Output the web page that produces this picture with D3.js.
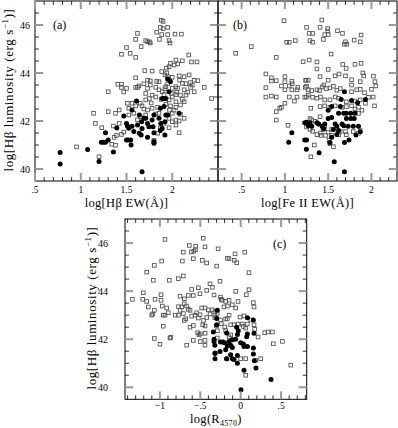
<!DOCTYPE html>
<html>
<head>
<meta charset="utf-8">
<script src="https://cdn.jsdelivr.net/npm/d3@7"></script>
<style>
  body { margin: 0; background: #fff; }
  text { font-family: "Liberation Serif", "DejaVu Serif", serif; fill: #000; }
</style>
</head>
<body>
<div id="chart"></div>
<script>
// ---- data: [x, log L(Hbeta)] ----
const aOpen = [
  [0.954,40.92],[1.20,40.51],[1.14,42.32],[1.16,41.90],[1.23,41.72],[1.30,42.39],[1.30,43.22],[1.34,41.03],[1.38,40.99],[1.365,41.32],
  [1.39,41.40],[1.357,41.79],[1.38,42.32],[1.42,42.46],[1.42,41.90],[1.445,41.44],[1.47,41.54],[1.405,43.53],[1.445,43.53],[1.445,43.40],
  [1.47,43.21],[1.50,43.36],[1.445,44.78],[1.50,45.06],[1.88,46.2],[1.90,46.15],[1.87,45.9],[1.90,45.85],[1.95,45.9],[1.83,45.7],
  [1.885,45.6],[1.95,45.6],[2.03,45.62],[2.10,45.62],[1.62,45.65],[1.60,45.4],[1.71,45.35],[1.73,45.3],[1.75,45.3],[1.76,45.25],
  [1.86,45.4],[1.965,45.35],[1.975,45.25],[1.66,45.1],[1.54,44.82],[1.60,44.65],[2.18,44.75],[2.21,44.46],[2.27,44.46],[2.11,44.51],
  [2.04,44.54],[2.06,44.38],[1.98,44.4],[2.02,44.33],[1.965,44.26],[1.936,44.2],[1.885,44.06],[1.78,44.08],[1.70,44.1],[1.60,43.8],
  [1.73,43.7],[1.76,43.67],[1.855,43.64],[1.92,43.92],[1.947,43.85],[2.0,43.82],[2.075,43.88],[2.13,43.85],[2.185,43.92],[2.24,43.7],
  [2.28,43.68],[2.20,43.6],[2.11,43.57],[2.04,43.43],[2.06,43.36],[2.13,43.3],[2.20,43.4],[2.24,43.22],[2.35,43.4],[2.43,42.94],
  [1.60,43.4],[1.62,43.4],[1.635,43.46],[1.73,43.36],[1.76,43.5],[1.82,43.4],[1.93,43.43],[2.0,43.36],[1.855,43.3],[1.89,43.22],
  [1.71,43.15],[1.78,43.08],[1.82,43.0],[1.75,42.94],[1.91,43.1],[2.04,43.1],[2.09,43.08],[2.15,43.08],[2.0,43.0],[1.965,42.88],
  [2.04,42.8],[2.13,42.8],[1.71,42.88],[1.65,42.74],[1.56,42.74],[1.51,42.74],[1.525,42.53],[1.60,42.63],[1.67,42.63],[1.73,42.46],
  [1.78,42.53],[1.84,42.57],[1.98,42.63],[2.04,42.57],[2.09,42.67],[1.58,42.32],[1.65,42.18],[1.71,42.25],[1.82,42.29],[1.855,42.32],
  [2.0,42.32],[2.09,42.28],[2.13,42.11],[1.965,42.11],[2.04,42.04],[2.0,41.97],[2.075,42.0],[1.525,42.25],[1.91,41.9],[1.965,41.72],
  [2.04,41.83],[1.84,41.49],[1.87,41.7],[2.075,41.51],[1.80,41.2],[1.80,41.14],[1.95,43.55],[1.97,43.7],[2.05,43.2],[1.88,42.9],
  [1.93,42.7],[2.02,42.45],[1.97,42.45],[1.77,42.75],[1.69,42.5],[1.62,42.05],[1.92,43.35],[2.08,43.7],[2.15,43.55],[2.17,43.2],
  [1.99,43.15],[2.11,42.9],[2.22,43.5],[1.94,44.0],[1.83,43.65],[1.69,43.55]
];
const aFilled = [
  [0.775,40.69],[0.775,40.21],[1.075,40.81],[1.20,40.31],[1.27,41.51],[1.225,41.11],[1.247,41.11],[1.27,41.11],[1.30,41.21],[1.357,40.71],
  [1.394,41.71],[1.47,42.21],[1.51,41.79],[1.50,41.21],[1.61,42.83],[1.56,42.46],[1.64,42.25],[1.50,41.9],[1.525,41.7],[1.56,41.78],
  [1.52,41.21],[1.545,41.21],[1.55,41.0],[1.58,41.56],[1.62,41.83],[1.64,41.49],[1.665,41.97],[1.67,41.69],[1.69,42.11],[1.71,42.11],
  [1.73,41.9],[1.745,41.76],[1.66,41.42],[1.73,41.32],[1.78,42.04],[1.80,42.25],[1.79,41.76],[1.80,41.51],[1.80,41.14],[1.80,41.07],
  [1.855,42.11],[1.87,42.53],[1.89,42.94],[1.91,42.94],[1.93,42.94],[1.91,42.6],[1.92,41.42],[1.93,42.25],[1.95,42.25],[1.875,41.9],
  [1.89,41.69],[1.87,41.6],[1.92,41.97],[1.965,43.22],[1.98,43.64],[1.95,43.75],[2.075,42.32],[1.67,39.89]
];
const bOpen = [
  [0.431,44.82],[0.612,45.1],[0.99,46.18],[1.02,45.28],[1.05,45.28],[1.12,45.35],[0.90,44.65],[1.21,44.47],[0.78,43.96],[0.844,43.8],
  [0.844,43.67],[0.90,43.68],[1.0,43.85],[1.0,43.64],[1.08,43.65],[1.085,43.55],[0.96,43.46],[1.05,43.46],[1.15,43.4],[1.235,43.4],
  [0.78,43.39],[0.78,43.0],[0.844,43.04],[0.90,43.0],[1.0,43.3],[1.08,43.3],[1.14,43.3],[1.05,43.0],[1.14,43.0],[1.23,42.99],
  [1.0,42.74],[1.11,42.83],[0.96,42.57],[0.94,42.53],[0.90,42.39],[0.90,42.04],[1.036,41.82],[1.24,43.7],[1.426,46.21],[1.25,45.9],
  [1.406,45.9],[1.495,45.85],[1.495,45.75],[1.28,45.65],[1.32,45.65],[1.46,45.6],[1.50,45.6],[1.607,45.76],[1.665,45.65],[1.445,45.4],
  [1.29,45.35],[1.32,45.28],[1.70,45.3],[1.688,45.2],[1.715,45.2],[1.80,45.37],[1.88,45.58],[1.87,45.3],[1.534,44.79],[1.28,44.54],
  [1.37,44.46],[1.37,44.17],[1.50,44.15],[1.668,44.36],[1.707,44.19],[1.81,44.36],[1.88,44.4],[1.90,44.0],[1.91,43.88],[1.626,43.96],
  [2.023,43.87],[2.04,43.64],[2.05,43.46],[2.0,43.32],[1.245,43.7],[1.27,43.7],[1.406,43.85],[1.50,43.7],[1.58,43.88],[1.70,43.88],
  [1.77,43.72],[1.77,43.5],[1.87,43.64],[1.25,43.45],[1.27,43.3],[1.31,43.27],[1.37,43.3],[1.40,43.27],[1.43,43.42],[1.45,43.5],
  [1.48,43.35],[1.52,43.38],[1.56,43.45],[1.60,43.28],[1.64,43.35],[1.77,43.22],[1.83,43.3],[1.87,43.32],[1.92,43.18],[1.965,42.99],
  [2.02,43.0],[2.035,42.63],[1.93,42.74],[1.87,42.88],[1.81,42.83],[1.25,43.0],[1.27,43.08],[1.32,42.99],[1.37,42.95],[1.41,43.0],
  [1.46,42.88],[1.52,42.88],[1.58,43.0],[1.62,42.95],[1.71,42.8],[1.66,42.57],[1.71,42.6],[1.77,42.63],[1.81,42.5],[1.85,42.57],
  [1.89,42.45],[1.85,42.32],[1.30,42.53],[1.406,42.6],[1.46,42.63],[1.52,42.57],[1.58,42.63],[1.29,42.1],[1.31,42.05],[1.35,41.99],
  [1.406,42.18],[1.25,41.9],[1.25,41.75],[1.29,41.65],[1.32,41.57],[1.37,41.43],[1.41,41.5],[1.44,41.65],[1.46,41.78],[1.47,41.4],
  [1.50,41.53],[1.54,41.65],[1.62,41.43],[1.64,41.56],[1.70,41.56],[1.71,41.43],[1.79,41.56],[1.85,41.49],[1.87,41.6],[1.34,41.0],
  [1.51,41.2],[1.52,41.05],[1.56,40.93],[1.30,40.51],[1.42,41.4],[1.54,41.4]
];
const bFilled = [
  [1.08,41.51],[1.044,41.11],[1.229,41.21],[1.248,40.82],[1.229,41.93],[1.688,43.22],[1.77,42.85],[1.84,42.76],[1.93,42.9],[1.50,42.45],
  [1.54,42.6],[1.64,42.6],[1.62,42.32],[1.68,42.32],[1.71,42.32],[1.76,42.32],[1.81,42.32],[1.80,42.1],[1.76,42.1],[1.71,42.1],
  [1.54,42.15],[1.50,42.1],[1.46,41.87],[1.39,41.87],[1.43,41.78],[1.45,41.68],[1.37,41.93],[1.58,41.87],[1.60,41.78],[1.56,41.65],
  [1.66,41.87],[1.68,41.8],[1.62,41.6],[1.60,41.44],[1.73,41.78],[1.79,41.78],[1.85,41.78],[1.87,41.55],[1.25,41.21],[1.395,40.68],
  [1.54,41.32],[1.52,41.1],[1.688,41.1],[1.74,41.21],[1.82,41.42],[1.57,40.3],[1.688,39.89],[1.27,41.8],[1.31,41.78],[1.29,41.92],
  [1.25,41.95],[1.65,42.9]
];
const cOpen = [
  [-0.937,46.15],[-0.978,45.25],[-1.069,45.07],[-1.164,44.79],[-1.081,44.45],[-0.883,44.45],[-0.772,44.52],[-0.71,44.63],[-0.722,45.25],[-0.636,45.9],
  [-0.557,45.87],[-0.71,45.62],[-0.61,45.63],[-0.58,45.66],[-0.56,45.72],[-0.475,45.28],[-0.421,45.17],[-0.442,45.84],[-0.463,46.2],[-0.586,45.35],
  [-0.297,45.04],[-1.341,43.66],[-1.205,43.93],[-1.213,43.66],[-1.164,43.57],[-1.06,43.66],[-0.986,43.85],[-0.986,43.62],[-1.143,43.34],[-1.10,43.0],
  [-1.09,43.05],[-1.069,43.2],[-0.97,43.38],[-0.958,43.0],[-0.916,43.3],[-0.896,43.1],[-0.937,43.0],[-0.958,42.54],[-1.069,42.03],[-0.999,41.79],
  [-0.875,42.05],[-0.865,42.08],[-0.751,43.79],[-0.698,43.68],[-0.648,43.82],[-0.607,44.07],[-0.524,44.14],[-0.586,43.82],[-0.504,43.89],[-0.421,44.03],
  [-0.38,44.3],[-0.35,44.16],[-0.77,43.35],[-0.75,43.2],[-0.73,43.34],[-0.698,43.47],[-0.67,43.38],[-0.65,43.25],[-0.71,43.07],[-0.77,43.0],
  [-0.81,43.0],[-0.627,43.2],[-0.607,42.96],[-0.565,43.0],[-0.545,43.1],[-0.524,42.88],[-0.504,43.02],[-0.483,43.3],[-0.442,43.3],[-0.4,43.22],
  [-0.38,43.05],[-0.35,43.22],[-0.318,43.15],[-0.42,42.9],[-0.46,42.78],[-0.442,42.55],[-0.698,42.78],[-0.68,42.85],[-0.627,42.5],[-0.586,42.57],
  [-0.533,42.27],[-0.516,42.18],[-0.5,42.22],[-0.47,42.6],[-0.44,42.25],[-0.32,42.9],[-0.30,42.55],[-0.586,41.95],[-0.669,41.75],[-0.442,41.75],
  [-0.442,41.95],[-0.50,41.9],[-0.28,45.76],[-0.165,45.37],[-0.145,45.35],[-0.07,45.55],[-0.08,45.28],[-0.05,45.18],[0.05,45.62],[0.103,44.77],
  [-0.256,44.41],[-0.062,43.99],[0.103,44.06],[0.07,43.85],[-0.33,43.84],[-0.25,43.75],[-0.24,43.66],[-0.23,43.62],[-0.186,43.57],[-0.144,43.62],
  [-0.033,43.57],[-0.103,43.43],[-0.062,43.3],[-0.165,43.38],[-0.207,43.34],[0.165,43.34],[0.157,43.52],[-0.32,43.0],[-0.29,43.07],[-0.144,43.0],
  [-0.186,42.84],[-0.165,42.86],[-0.008,42.92],[0.041,42.97],[0.124,42.8],[-0.25,42.8],[-0.24,42.65],[-0.198,42.51],[-0.124,42.6],[-0.083,42.6],
  [-0.033,42.63],[0.02,42.63],[0.083,42.63],[0.165,42.6],[0.173,42.41],[0.033,42.53],[0.062,42.46],[0.215,42.09],[0.297,42.27],[0.338,42.3],
  [0.392,42.3],[0.404,41.81],[0.516,41.91],[0.619,40.92],[0.062,41.19],[0.248,41.19],[0.186,41.12],[0.0,41.19],[0.062,40.5],[-0.29,42.05],
  [-0.124,42.18],[-0.144,42.1],[-0.186,42.35],[-0.289,42.35]
];
const cFilled = [
  [-0.339,42.3],[-0.33,42.0],[-0.318,41.4],[-0.318,41.19],[-0.297,42.6],[-0.289,43.2],[-0.297,42.86],[-0.25,41.88],[-0.22,41.88],[-0.2,41.85],
  [-0.144,41.9],[-0.103,41.98],[-0.33,41.9],[-0.32,41.75],[-0.165,41.72],[-0.124,41.75],[-0.103,41.65],[-0.186,41.56],[-0.124,41.35],[-0.041,41.32],
  [-0.173,41.19],[-0.103,41.19],[-0.083,41.16],[-0.041,41.0],[0.0,41.85],[0.04,41.7],[0.033,41.8],[0.083,41.7],[-0.062,42.0],[-0.04,42.2],
  [-0.03,42.35],[-0.05,42.5],[0.083,42.22],[0.074,42.1],[0.083,42.89],[0.157,42.8],[0.165,42.25],[0.157,41.63],[0.157,41.38],[0.169,41.1],
  [0.189,40.8],[0.041,40.71],[0.004,39.9],[0.375,40.32],[-0.174,42.26],[-0.256,41.49],[-0.318,41.43],[-0.174,41.19]
];

// tick values
const yTicks = [40, 42, 44, 46];
const aXTicks = [0.5, 1, 1.5, 2];
const bXTicks = [0.5, 1, 1.5, 2];
const cXTicks = [-1, -0.5, 0, 0.5];

const W = 398, H = 428;
const svg = d3.select('#chart').append('svg').attr('width', W).attr('height', H);

const fmt = v => {
  let s = d3.format('~g')(Math.abs(v)).replace(/^0\./, '.');
  return (v < 0 ? '\u2212' : '') + s;
};

const panels = [
  { name: '(a)', open: aOpen, filled: aFilled, xDom: [0.5, 2.5], xr: [35, 218], yr: [181, 1],
    xTicks: aXTicks, yLab: true, yLabX: 30, tag: [53, 29], xTitle: 'ew', xLabY: 193, xTitleY: 207 },
  { name: '(b)', open: bOpen, filled: bFilled, xDom: [0.227, 2.295], xr: [218, 397], yr: [181, 1],
    xTicks: bXTicks, yLab: false, tag: [233, 29], xTitle: 'fe', xLabY: 193, xTitleY: 207 },
  { name: '(c)', open: cOpen, filled: cFilled, xDom: [-1.432, 0.817], xr: [125, 306.7], yr: [399.3, 219],
    xTicks: cXTicks, yLab: true, yLabX: 108, tag: [273, 248], xTitle: 'r', xLabY: 409, xTitleY: 423 }
];

function ytitle(g, cx, cy) {
  let t = g.append('text')
    .attr('transform', 'translate(' + cx + ',' + cy + ') rotate(-90)')
    .attr('text-anchor', 'middle')
    .style('font-size', '13px')
    .style('letter-spacing', '0.6px');
  t.append('tspan').text('log[H\u03b2  luminosity (erg s');
  t.append('tspan').attr('dy', -5).style('font-size', '9px').text('\u22121');
  t.append('tspan').attr('dy', 5).text(')]');
}

panels.forEach(p => {
  const x = d3.scaleLinear().domain(p.xDom).range(p.xr);
  const y = d3.scaleLinear().domain([39.5, 47]).range(p.yr);
  const g = svg.append('g');

  // points
  g.selectAll('rect.o').data(p.open).enter().append('rect')
    .attr('x', d => x(d[0]) - 1.8).attr('y', d => y(d[1]) - 1.8)
    .attr('width', 3.6).attr('height', 3.6)
    .attr('fill', 'none').attr('stroke', '#555').attr('stroke-width', 0.9);
  g.selectAll('circle.f').data(p.filled).enter().append('circle')
    .attr('cx', d => x(d[0])).attr('cy', d => y(d[1])).attr('r', 2.5)
    .attr('fill', '#000');

  // frame
  const [x0, x1] = p.xr, [y0, y1] = p.yr;
  g.append('rect').attr('x', x0).attr('y', y1).attr('width', x1 - x0).attr('height', y0 - y1)
    .attr('fill', 'none').attr('stroke', '#000').attr('stroke-width', 1);

  // minor ticks
  const xMinor = d3.range(Math.ceil(p.xDom[0] * 10), Math.floor(p.xDom[1] * 10) + 1).map(v => v / 10)
    .filter(v => Math.abs(v * 2 - Math.round(v * 2)) > 1e-6);
  const yMinor = d3.range(40, 47, 0.5).filter(v => v % 2 !== 0);
  const tk = g.append('g').attr('stroke', '#000').attr('stroke-width', 0.8);
  xMinor.forEach(v => {
    tk.append('line').attr('x1', x(v)).attr('x2', x(v)).attr('y1', y0).attr('y2', y0 - 4);
    tk.append('line').attr('x1', x(v)).attr('x2', x(v)).attr('y1', y1).attr('y2', y1 + 4);
  });
  yMinor.forEach(v => {
    tk.append('line').attr('x1', x0).attr('x2', x0 + 4).attr('y1', y(v)).attr('y2', y(v));
    tk.append('line').attr('x1', x1).attr('x2', x1 - 4).attr('y1', y(v)).attr('y2', y(v));
  });
  // major ticks
  const mj = g.append('g').attr('stroke', '#9a9a9a').attr('stroke-width', 2);
  p.xTicks.forEach(v => {
    mj.append('line').attr('x1', x(v)).attr('x2', x(v)).attr('y1', y0).attr('y2', y0 - 8);
    mj.append('line').attr('x1', x(v)).attr('x2', x(v)).attr('y1', y1).attr('y2', y1 + 8);
  });
  yTicks.forEach(v => {
    mj.append('line').attr('x1', x0).attr('x2', x0 + 8).attr('y1', y(v)).attr('y2', y(v));
    mj.append('line').attr('x1', x1).attr('x2', x1 - 8).attr('y1', y(v)).attr('y2', y(v));
  });

  // tick labels
  g.selectAll('text.xl').data(p.xTicks).enter().append('text')
    .attr('x', d => x(d)).attr('y', p.xLabY)
    .attr('text-anchor', 'middle').style('font-size', '9.5px')
    .text(fmt);
  if (p.yLab) {
    g.selectAll('text.yl').data(yTicks).enter().append('text')
      .attr('x', p.yLabX).attr('y', d => y(d)).attr('dy', '0.35em')
      .attr('text-anchor', 'end').style('font-size', '10px')
      .text(fmt);
  }

  // panel tag
  g.append('text').attr('x', p.tag[0]).attr('y', p.tag[1]).style('font-size', '12px').text(p.name);

  // x title
  const xc = (x0 + x1) / 2;
  const xt = g.append('text').attr('x', xc).attr('y', p.xTitleY)
    .attr('text-anchor', 'middle').style('font-size', '12.5px').style('letter-spacing', '0.3px');
  if (p.xTitle === 'ew') {
    xt.text('log[H\u03b2  EW(\u00c5)]');
  } else if (p.xTitle === 'fe') {
    xt.text('log[Fe II EW(\u00c5)]');
  } else {
    xt.append('tspan').text('log(R');
    xt.append('tspan').attr('dy', 3).style('font-size', '8px').text('4570');
    xt.append('tspan').attr('dy', -3).text(')');
  }
});

ytitle(svg, 13, 90);
ytitle(svg, 96, 308);
</script>
</body>
</html>
